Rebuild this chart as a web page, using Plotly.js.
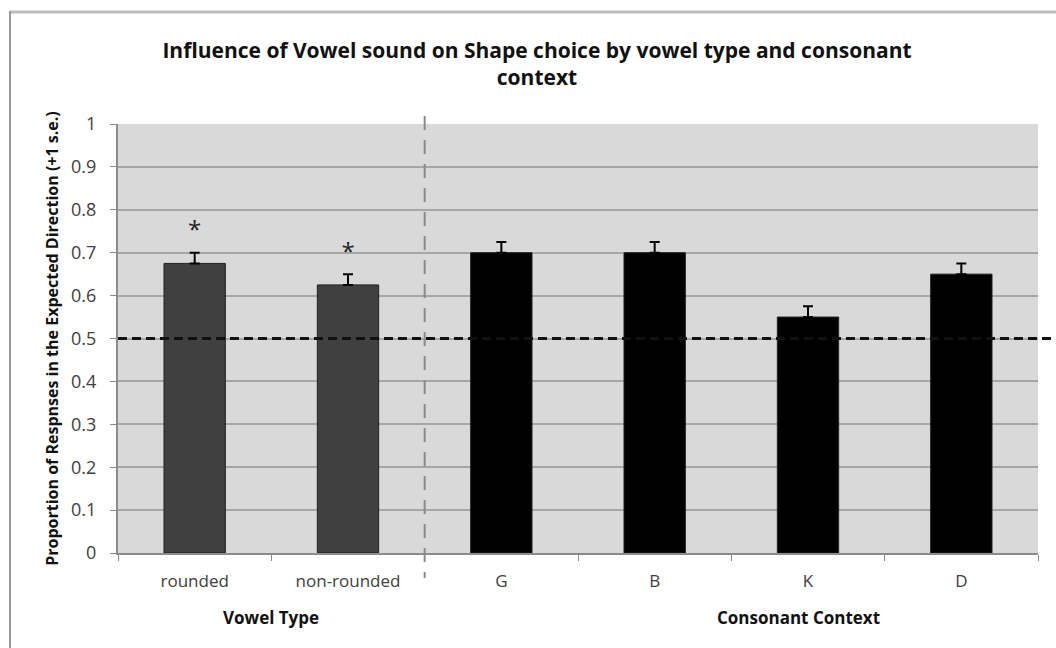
<!DOCTYPE html>
<html>
<head>
<meta charset="utf-8">
<script src="https://cdn.plot.ly/plotly-3.0.1.min.js"></script>
<style>html,body{margin:0;padding:0;background:#fff;}#chart{width:1056px;height:648px;}</style>
</head>
<body>
<div id="chart"></div>
<script>
// ---- data ----
const categories = ["rounded", "non-rounded", "G", "B", "K", "D"];
const proportions = [0.675, 0.625, 0.70, 0.70, 0.55, 0.65];
const stdErrors = [0.025, 0.025, 0.025, 0.025, 0.025, 0.025];
const barColors = ["#404040", "#404040", "#000000", "#000000", "#000000", "#000000"];
const starCategories = ["rounded", "non-rounded"];
const starY = [0.748, 0.698];
const groupLabels = ["Vowel Type", "Consonant Context"];
const groupCenters = [0.5, 3.94];
const dividerPos = 1.5;
const chanceLevel = 0.5;
const yTicks = [0, 0.1, 0.2, 0.3, 0.4, 0.5, 0.6, 0.7, 0.8, 0.9, 1];
const yRange = [0, 1];

const FONT = "Open Sans, Liberation Sans, sans-serif";

const traces = [
  {
    type: "bar",
    x: categories,
    y: proportions,
    width: 0.4,
    marker: { color: barColors, line: { color: "#202020", width: 1 } },
    error_y: {
      type: "data", symmetric: false, array: stdErrors,
      arrayminus: stdErrors.map(() => 0),
      color: "#000", thickness: 2, width: 5
    },
    hoverinfo: "x+y",
    showlegend: false
  },
  {
    type: "scatter",
    mode: "text",
    x: starCategories,
    y: starY,
    text: starCategories.map(() => "*"),
    textfont: { family: FONT, size: 24, color: "#222" },
    cliponaxis: false,
    hoverinfo: "skip",
    showlegend: false
  }
];

const plotTop = 124, plotBottom = 553, plotLeft = 118, plotRight = 1038;
const ph = plotBottom - plotTop, pw = plotRight - plotLeft;
const px = v => (v - plotLeft) / pw;
const py = v => (plotBottom - v) / ph;

const annotations = groupLabels.map((t, i) => ({
  text: t, x: groupCenters[i], xref: "x", y: py(617), yref: "paper",
  showarrow: false, font: { family: FONT, size: 17, color: "#111", weight: "bold" },
  xanchor: "center", yanchor: "middle"
}));

const chancePaper = (chanceLevel - yRange[0]) / (yRange[1] - yRange[0]);

const shapes = [
  // outer frame
  { type: "line", xref: "paper", yref: "paper", x0: px(10), x1: px(1060), y0: py(12), y1: py(12),
    line: { color: "#bdbdbd", width: 3 } },
  { type: "line", xref: "paper", yref: "paper", x0: px(10), x1: px(10), y0: py(11), y1: py(660),
    line: { color: "#9a9a9a", width: 2 } },
  // divider
  { type: "line", xref: "x", yref: "paper", x0: dividerPos, x1: dividerPos, y0: py(116), y1: py(578),
    line: { color: "#8a8a8a", width: 2, dash: "14px,10px" } },
  // chance line
  { type: "line", xref: "paper", yref: "paper", x0: 0, x1: px(1060), y0: chancePaper, y1: chancePaper,
    line: { color: "#111", width: 3, dash: "9px,5px" } }
];

const layout = {
  width: 1056, height: 648,
  margin: { l: plotLeft, r: 1056 - plotRight, t: plotTop, b: 648 - plotBottom, pad: 0 },
  paper_bgcolor: "#fff",
  plot_bgcolor: "#d9d9d9",
  font: { family: FONT, color: "#404040" },
  title: {
    text: "Influence of Vowel sound on Shape choice by vowel type and consonant<br>context",
    font: { family: FONT, size: 21, color: "#111", weight: "bold" },
    x: 537 / 1056, xref: "container", xanchor: "center", y: 1 - 58 / 648, yanchor: "middle"
  },
  xaxis: {
    type: "category",
    categoryorder: "array", categoryarray: categories,
    range: [-0.5, 5.5],
    tickson: "boundaries",
    ticks: "outside", ticklen: 6, tickcolor: "#8c8c8c", tickwidth: 1,
    showline: true, linecolor: "#8c8c8c", linewidth: 2,
    showgrid: false, zeroline: false,
    tickfont: { family: FONT, size: 17, color: "#404040" },
    ticklabelstandoff: 12,
    fixedrange: true
  },
  yaxis: {
    range: yRange,
    tickvals: yTicks,
    ticktext: yTicks.map(v => String(v)),
    ticks: "outside", ticklen: 6, tickcolor: "#8c8c8c", tickwidth: 1,
    showline: true, linecolor: "#8c8c8c", linewidth: 2,
    showgrid: true, gridcolor: "#a6a6a6", gridwidth: 2,
    zeroline: false,
    tickfont: { family: FONT, size: 18, color: "#404040" },
    ticklabelstandoff: 10,
    title: {
      text: "Proportion of Respnses in the Expected Direction (+1 s.e.)",
      font: { family: FONT, size: 16, color: "#111", weight: "bold" },
      standoff: 8
    },
    fixedrange: true
  },
  bargap: 0.6,
  annotations: annotations,
  shapes: shapes,
  showlegend: false
};

Plotly.newPlot("chart", traces, layout, { displayModeBar: false, staticPlot: true });
</script>
</body>
</html>
